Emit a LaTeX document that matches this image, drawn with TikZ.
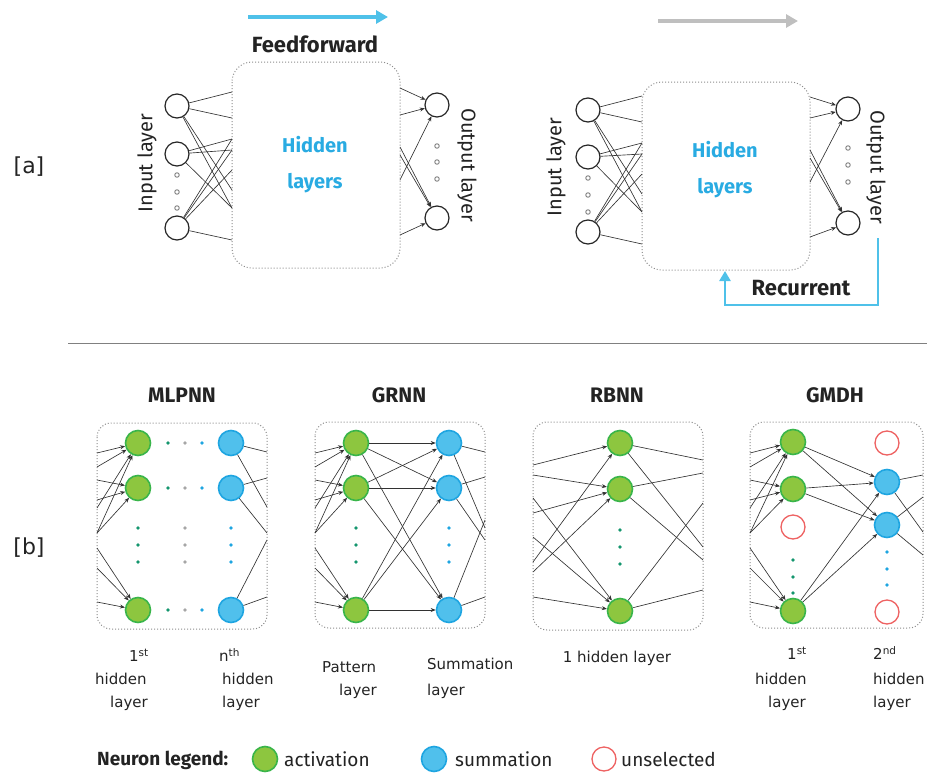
\documentclass[tikz,border=0pt]{standalone}
\usepackage{fontspec}
\setmainfont{DejaVu Sans}
\newfontfamily\din{Fira Sans}
\usetikzlibrary{arrows.meta}
\definecolor{skyb}{RGB}{79,193,233}
\definecolor{hidb}{RGB}{41,171,226}
\definecolor{actfill}{RGB}{141,198,63}
\definecolor{actedge}{RGB}{57,181,74}
\definecolor{sumfill}{RGB}{80,192,236}
\definecolor{sumedge}{RGB}{30,165,225}
\definecolor{unselc}{RGB}{238,98,98}
\definecolor{boxg}{RGB}{140,140,140}
\definecolor{dotg}{RGB}{20,150,110}
\definecolor{ink}{RGB}{35,35,35}
\definecolor{wirec}{RGB}{50,50,50}
\begin{document}
\begin{tikzpicture}[x=1pt,y=-1pt,
  neur/.style={circle, draw=black!85, line width=1.2pt, minimum size=24pt, inner sep=0pt},
  hbox/.style={draw=boxg, dotted, line width=1pt, rounded corners=20pt},
  wire/.style={draw=wirec, line width=0.65pt},
  warr/.style={wire, -{Stealth[length=5pt,width=4pt]}},
  ring/.style={circle, draw=gray, line width=0.9pt, minimum size=4.5pt, inner sep=0pt},
  act/.style={circle, draw=actedge, fill=actfill, line width=1.6pt, minimum size=25pt, inner sep=0pt},
  summ/.style={circle, draw=sumedge, fill=sumfill, line width=1.6pt, minimum size=25pt, inner sep=0pt},
  unsl/.style={circle, draw=unselc, fill=white, line width=1.3pt, minimum size=24pt, inner sep=0pt},
  panel/.style={draw=boxg, dotted, line width=1pt, rounded corners=14pt},
  ttl/.style={font=\din\bfseries\fontsize{22}{26}\selectfont, text=ink, inner sep=0pt},
  ptl/.style={font=\din\bfseries\fontsize{21}{25}\selectfont, text=ink, inner sep=0pt},
  rot/.style={font=\din\fontsize{20}{24}\selectfont, text=ink, inner sep=0pt},
  lbl/.style={font=\fontsize{15}{18}\selectfont, text=ink, inner sep=0pt, anchor=west},
  leg/.style={font=\din\fontsize{19}{22}\selectfont, text=ink, inner sep=0pt, anchor=west},
  sdot/.style={circle, fill=#1, inner sep=0pt, minimum size=3.6pt},
  bigarr/.style={line width=3.5pt, -{Triangle[length=12pt,width=13pt]}}
]
\useasboundingbox (0,0) rectangle (927,774);

% ---------------- labels [a] [b]
\node[font=\fontsize{22}{26}\selectfont, text=ink] (la) at (29,167) {[a]};
\node[font=\fontsize{22}{26}\selectfont, text=ink] (lb) at (29,548) {[b]};

% ---------------- top-left feedforward
\coordinate (ffa) at (248,17); \coordinate (ffb) at (388,17);
\draw[skyb, bigarr] (ffa) -- (ffb);
\node[ttl] (fft) at (315,44) {Feedforward};
\draw[hbox] (232,62) rectangle (400,268);
\node[font=\din\bfseries\fontsize{20}{36}\selectfont, text=hidb, align=center] (hl1) at (315,165) {Hidden\\layers};
\node[neur] (i1) at (177,106) {};
\node[neur] (i2) at (177,154) {};
\node[neur] (i3) at (177,228) {};
\node[ring] (ia) at (177,175) {};
\node[ring] (ib) at (177,192) {};
\node[ring] (ic) at (177,208) {};
\node[neur] (o1) at (437,105) {};
\node[neur] (o2) at (437,218) {};
\node[ring] (oa) at (437,146) {};
\node[ring] (ob) at (437,162) {};
\node[ring] (oc) at (437,179) {};
\node[rot, rotate=90] (inl1) at (147,163) {Input layer};
\node[rot, rotate=-90] (outl1) at (467,165) {Output layer};
\foreach \y [count=\i] in {92,118,139,150,170,190,208,240} \coordinate (fl\i) at (232,\y);
\foreach \y [count=\i] in {88,115,147,155,180,235} \coordinate (fr\i) at (400,\y);
\foreach \j in {1,2,6,7} \draw[wire] (i1) -- (fl\j);
\foreach \j in {3,4,7} \draw[wire] (i2) -- (fl\j);
\foreach \j in {3,4,5,8} \draw[wire] (i3) -- (fl\j);
\foreach \j in {1,2,5} \draw[warr] (fr\j) -- (o1);
\foreach \j in {3,4,6} \draw[warr] (fr\j) -- (o2);

% ---------------- top-right recurrent
\coordinate (gra) at (658,21); \coordinate (grb) at (798,21);
\draw[black!25, bigarr] (gra) -- (grb);
\draw[hbox] (642,82) rectangle (810,270);
\node[font=\din\bfseries\fontsize{20}{36}\selectfont, text=hidb, align=center] (hl2) at (725,170) {Hidden\\layers};
\node[neur] (j1) at (588,110) {};
\node[neur] (j2) at (588,157) {};
\node[neur] (j3) at (588,232) {};
\node[ring] (ja) at (588,178) {};
\node[ring] (jb) at (588,195) {};
\node[ring] (jc) at (588,212) {};
\node[neur] (p1) at (848,109) {};
\node[neur] (p2) at (848,223) {};
\node[ring] (pa) at (848,148) {};
\node[ring] (pb) at (848,165) {};
\node[ring] (pc) at (848,182) {};
\node[rot, rotate=90] (inl2) at (556,167) {Input layer};
\node[rot, rotate=-90] (outl2) at (876,167) {Output layer};
\foreach \y [count=\i] in {96,122,143,154,174,194,212,244} \coordinate (rl\i) at (642,\y);
\foreach \y [count=\i] in {97,118,150,158,182,237} \coordinate (rr\i) at (810,\y);
\foreach \j in {1,2,6,7} \draw[wire] (j1) -- (rl\j);
\foreach \j in {3,4,7} \draw[wire] (j2) -- (rl\j);
\foreach \j in {3,4,5,8} \draw[wire] (j3) -- (rl\j);
\foreach \j in {1,2,5} \draw[warr] (rr\j) -- (p1);
\foreach \j in {3,4,6} \draw[warr] (rr\j) -- (p2);
\coordinate (rc0) at (878,238); \coordinate (rc1) at (725,271);
\draw[skyb, line width=2.6pt, -{Triangle[length=10pt,width=11pt]}] (rc0) -- (878,305) -| (rc1);
\node[ttl] (rct) at (801,288) {Recurrent};

% ---------------- separator
\coordinate (sep0) at (68,343); \coordinate (sep1) at (927,343);
\draw[black!50, line width=0.8pt] (sep0) -- (sep1);

% ---------------- MLPNN
\node[ptl] (t1) at (182,395) {MLPNN};
\draw[panel] (97,423) rectangle (267,629);
\node[act] (ma1) at (138,443) {};
\node[act] (ma2) at (138,488) {};
\node[act] (ma3) at (138,610) {};
\node[summ] (mb1) at (231,443) {};
\node[summ] (mb2) at (231,488) {};
\node[summ] (mb3) at (231,610) {};
\foreach \yy in {443,488,610} {
  \node[sdot=dotg] at (168,\yy) {};
  \node[sdot=black!35] at (185,\yy) {};
  \node[sdot=sumedge] at (202,\yy) {};
}
\foreach \yy in {528,545,562} {
  \node[sdot=dotg] at (138,\yy) {};
  \node[sdot=black!35] at (185,\yy) {};
  \node[sdot=sumedge] at (231,\yy) {};
}
\foreach \y [count=\i] in {453,467,480,500,508,533,548,568,602} \coordinate (ml\i) at (97,\y);
\foreach \y [count=\i] in {452,478,507,533,540,597} \coordinate (mr\i) at (267,\y);
\foreach \j in {1,2,5,6} \draw[warr] (ml\j) -- (ma1);
\foreach \j in {3,4,6} \draw[warr] (ml\j) -- (ma2);
\foreach \j in {7,8,9} \draw[warr] (ml\j) -- (ma3);
\foreach \j in {1,3} \draw[wire] (mb1) -- (mr\j);
\foreach \j in {2,4} \draw[wire] (mb2) -- (mr\j);
\foreach \j in {5,6} \draw[wire] (mb3) -- (mr\j);
\node[lbl] (m1a) at (129,655) {1\textsuperscript{st}};
\node[lbl] (m1b) at (95,679) {hidden};
\node[lbl] (m1c) at (110,703) {layer};
\node[lbl] (m2a) at (219,655) {n\textsuperscript{th}};
\node[lbl] (m2b) at (222,679) {hidden};
\node[lbl] (m2c) at (222,703) {layer};

% ---------------- GRNN
\node[ptl] (t2) at (399,395) {GRNN};
\draw[panel] (315,422) rectangle (485,628);
\node[act] (ga1) at (356,443) {};
\node[act] (ga2) at (356,488) {};
\node[act] (ga3) at (356,610) {};
\node[summ] (gb1) at (449,443) {};
\node[summ] (gb2) at (449,488) {};
\node[summ] (gb3) at (449,610) {};
\foreach \yy in {528,545,562} {
  \node[sdot=dotg] at (356,\yy) {};
  \node[sdot=sumedge] at (449,\yy) {};
}
\foreach \y [count=\i] in {453,467,480,500,508,533,548,568,602} \coordinate (gl\i) at (315,\y);
\foreach \y [count=\i] in {452,528,477,540,520,597} \coordinate (gr\i) at (485,\y);
\foreach \j in {1,2,5,6} \draw[warr] (gl\j) -- (ga1);
\foreach \j in {3,4,6} \draw[warr] (gl\j) -- (ga2);
\foreach \j in {7,8,9} \draw[warr] (gl\j) -- (ga3);
\foreach \a in {1,2,3} \foreach \b in {1,2,3} \draw[warr] (ga\a) -- (gb\b);
\foreach \j in {1,2} \draw[wire] (gb1) -- (gr\j);
\foreach \j in {3,4} \draw[wire] (gb2) -- (gr\j);
\foreach \j in {5,6} \draw[wire] (gb3) -- (gr\j);
\node[lbl] (g1a) at (322,667) {Pattern};
\node[lbl] (g1b) at (339,691) {layer};
\node[lbl] (g2a) at (427,664) {Summation};
\node[lbl] (g2b) at (427,691) {layer};

% ---------------- RBNN
\node[ptl] (t3) at (617,395) {RBNN};
\draw[panel] (533,422) rectangle (703,630);
\node[act] (ra1) at (620,443) {};
\node[act] (ra2) at (620,489) {};
\node[act] (ra3) at (620,611) {};
\foreach \yy in {530,547,564} { \node[sdot=dotg] at (620,\yy) {}; }
\foreach \y [count=\i] in {465,475,498,513,537,562,572,597} \coordinate (bl\i) at (533,\y);
\foreach \y [count=\i] in {460,547,473,560,503,590} \coordinate (br\i) at (703,\y);
\foreach \j in {1,6} \draw[warr] (bl\j) -- (ra1);
\foreach \j in {2,4,7} \draw[warr] (bl\j) -- (ra2);
\foreach \j in {3,5,8} \draw[warr] (bl\j) -- (ra3);
\foreach \j in {1,2} \draw[wire] (ra1) -- (br\j);
\foreach \j in {3,4} \draw[wire] (ra2) -- (br\j);
\foreach \j in {5,6} \draw[wire] (ra3) -- (br\j);
\node[lbl, anchor=center] (r1a) at (617,658) {1 hidden layer};

% ---------------- GMDH
\node[ptl] (t4) at (835,395) {GMDH};
\draw[panel] (750,422) rectangle (923,628);
\node[act] (da1) at (793,442) {};
\node[act] (da2) at (793,489) {};
\node[unsl] (dx1) at (793,527) {};
\node[act] (da4) at (793,611) {};
\foreach \yy in {560,577,593} { \node[sdot=dotg] at (793,\yy) {}; }
\node[unsl] (dx2) at (887,443) {};
\node[summ] (db1) at (887,482) {};
\node[summ] (db2) at (887,525) {};
\node[unsl] (dx3) at (887,612) {};
\foreach \yy in {552,569,585} { \node[sdot=sumedge] at (887,\yy) {}; }
\foreach \y [count=\i] in {453,467,480,500,508,533,548,568,602} \coordinate (dl\i) at (750,\y);
\foreach \y [count=\i] in {475,532,497,555} \coordinate (dr\i) at (923,\y);
\foreach \j in {1,2,5,6} \draw[warr] (dl\j) -- (da1);
\foreach \j in {3,4,6} \draw[warr] (dl\j) -- (da2);
\foreach \j in {7,8,9} \draw[warr] (dl\j) -- (da4);
\foreach \a in {1,2,4} \foreach \b in {1,2} \draw[warr] (da\a) -- (db\b);
\foreach \j in {1,2} \draw[wire] (db1) -- (dr\j);
\foreach \j in {3,4} \draw[wire] (db2) -- (dr\j);
\node[lbl] (d1a) at (787,653) {1\textsuperscript{st}};
\node[lbl] (d1b) at (755,679) {hidden};
\node[lbl] (d1c) at (768,703) {layer};
\node[lbl] (d2a) at (873,653) {2\textsuperscript{nd}};
\node[lbl] (d2b) at (873,679) {hidden};
\node[lbl] (d2c) at (873,703) {layer};

% ---------------- legend
\node[font=\din\bfseries\fontsize{19}{22}\selectfont, text=ink, inner sep=0pt, anchor=west] (lg) at (97,760) {Neuron legend:};
\node[act] (lg1) at (265,759) {};
\node[leg] (lg1t) at (284,759) {activation};
\node[summ] (lg2) at (434,759) {};
\node[leg] (lg2t) at (455,759) {summation};
\node[unsl] (lg3) at (604,759) {};
\node[leg] (lg3t) at (621,759) {unselected};
\end{tikzpicture}
\end{document}
